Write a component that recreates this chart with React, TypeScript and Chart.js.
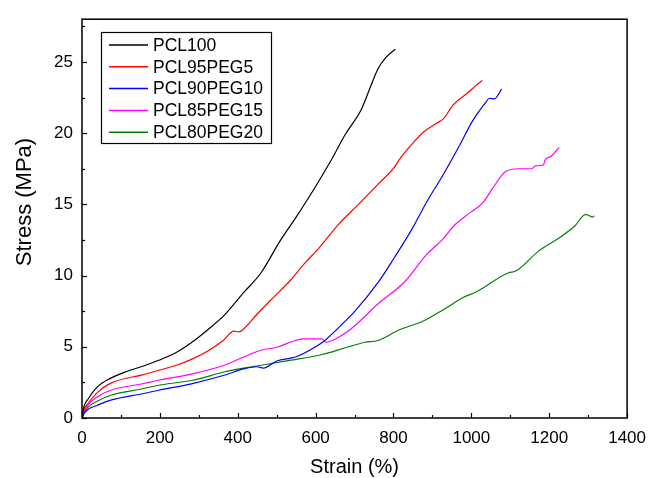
import { useEffect, useRef } from 'react';
import { Chart, registerables } from 'chart.js';

Chart.register(...registerables);

const FONT = "Arial, 'Liberation Sans', sans-serif";

const seriesNames = ['PCL100', 'PCL95PEG5', 'PCL90PEG10', 'PCL85PEG15', 'PCL80PEG20'];
const seriesColors = ['#000000', '#ff0000', '#0000ff', '#ff00ff', '#008000'];

const xTickValues = [0, 200, 400, 600, 800, 1000, 1200, 1400];
const yTickValues = [0, 5, 10, 15, 20, 25];

const pcl100Strain = [0, 5, 15, 40, 74, 113, 158, 197, 242, 284, 323, 365, 415, 460, 508, 550, 592, 642, 676, 718, 743, 760, 780, 805];
const pcl100Stress = [0, 0.8, 1.3, 2.2, 2.8, 3.25, 3.65, 4.05, 4.6, 5.35, 6.2, 7.2, 8.8, 10.2, 12.4, 14.1, 15.9, 18.2, 19.9, 21.7, 23.4, 24.5, 25.3, 25.9];

const pcl95Strain = [0, 5, 15, 40, 74, 158, 197, 242, 284, 323, 365, 390, 403, 415, 450, 491, 533, 570, 609, 659, 710, 760, 802, 819, 853, 878, 911, 928, 954, 987, 1010, 1028];
const pcl95Stress = [0, 0.6, 1.0, 1.8, 2.45, 3.05, 3.35, 3.7, 4.15, 4.7, 5.5, 6.1, 6.05, 6.25, 7.3, 8.45, 9.6, 10.8, 11.95, 13.6, 15.0, 16.4, 17.6, 18.3, 19.4, 20.1, 20.7, 21.0, 22.0, 22.75, 23.3, 23.7];

const pcl90Strain = [0, 5, 15, 40, 74, 158, 197, 281, 365, 415, 449, 466, 500, 550, 600, 626, 676, 701, 760, 802, 844, 886, 928, 970, 1004, 1038, 1046, 1059, 1078];
const pcl90Stress = [0, 0.3, 0.6, 0.9, 1.25, 1.72, 1.95, 2.4, 3.0, 3.45, 3.6, 3.5, 4.0, 4.3, 5.0, 5.5, 6.8, 7.5, 9.5, 11.25, 13.1, 15.2, 17.1, 19.15, 20.9, 22.2, 22.45, 22.4, 23.1];

const pcl85Strain = [0, 5, 15, 40, 74, 158, 197, 284, 365, 415, 457, 500, 542, 567, 617, 626, 659, 693, 760, 828, 886, 928, 954, 996, 1029, 1054, 1088, 1121, 1155, 1164, 1185, 1189, 1206, 1225];
const pcl85Stress = [0, 0.4, 0.9, 1.5, 1.95, 2.42, 2.65, 3.1, 3.7, 4.28, 4.74, 4.97, 5.39, 5.56, 5.56, 5.32, 5.67, 6.3, 8.0, 9.55, 11.5, 12.6, 13.46, 14.4, 15.1, 16.1, 17.3, 17.5, 17.5, 17.7, 17.76, 18.1, 18.4, 19.0];

const pcl80Strain = [0, 5, 15, 40, 74, 158, 197, 284, 365, 415, 449, 533, 617, 676, 727, 760, 811, 878, 928, 979, 1012, 1096, 1113, 1172, 1223, 1265, 1294, 1303, 1311, 1316];
const pcl80Stress = [0, 0.35, 0.75, 1.2, 1.6, 2.07, 2.3, 2.65, 3.23, 3.5, 3.65, 4.04, 4.46, 4.93, 5.32, 5.44, 6.14, 6.83, 7.6, 8.46, 8.85, 10.2, 10.3, 11.7, 12.6, 13.46, 14.3, 14.2, 14.1, 14.2];

const strainSets = [pcl100Strain, pcl95Strain, pcl90Strain, pcl85Strain, pcl80Strain];
const stressSets = [pcl100Stress, pcl95Stress, pcl90Stress, pcl85Stress, pcl80Stress];

const decorPlugin = {
  id: 'decor',
  afterDraw(chart: any) {
    const { ctx, chartArea: a, scales } = chart;
    ctx.save();
    ctx.strokeStyle = '#000';
    ctx.lineWidth = 1.5;
    ctx.strokeRect(a.left, a.top, a.right - a.left, a.bottom - a.top);
    ctx.lineWidth = 1.2;
    for (let v = 0; v <= 1400; v += 100) {
      const px = Math.round(scales.x.getPixelForValue(v)) + 0.5;
      const len = v % 200 === 0 ? 5 : 3;
      ctx.beginPath();
      ctx.moveTo(px, a.bottom);
      ctx.lineTo(px, a.bottom - len);
      ctx.stroke();
    }
    for (let v = 0; v <= 27.5; v += 2.5) {
      const py = Math.round(scales.y.getPixelForValue(v)) + 0.5;
      const len = v % 5 === 0 ? 5 : 3;
      ctx.beginPath();
      ctx.moveTo(a.left, py);
      ctx.lineTo(a.left + len, py);
      ctx.stroke();
    }
    ctx.save();
    ctx.translate(25, 202);
    ctx.rotate(-Math.PI / 2);
    ctx.fillStyle = '#000';
    ctx.font = `22px ${FONT}`;
    ctx.textAlign = 'center';
    ctx.textBaseline = 'middle';
    ctx.fillText('Stress (MPa)', 0, 0);
    ctx.restore();
    const bx = 101, by = 32, bw = 170, bh = 111;
    ctx.fillStyle = '#fff';
    ctx.fillRect(bx, by, bw, bh);
    ctx.strokeStyle = '#000';
    ctx.lineWidth = 1.2;
    ctx.strokeRect(bx + 0.5, by + 0.5, bw, bh);
    ctx.font = `17.5px ${FONT}`;
    ctx.textAlign = 'left';
    ctx.textBaseline = 'middle';
    chart.data.datasets.forEach((ds: any, i: number) => {
      const y = 45 + i * 21.8;
      ctx.strokeStyle = ds.borderColor;
      ctx.lineWidth = 1.5;
      ctx.beginPath();
      ctx.moveTo(109, y);
      ctx.lineTo(148, y);
      ctx.stroke();
      ctx.fillStyle = '#000';
      ctx.fillText(ds.label, 153, y + 1);
    });
    ctx.restore();
  },
};

export default function App() {
  const ref = useRef<HTMLCanvasElement | null>(null);
  useEffect(() => {
    if (!ref.current) return;
    const datasets = seriesNames.map((name, i) => ({
      label: name,
      data: strainSets[i].map((x, j) => ({ x, y: stressSets[i][j] })),
      borderColor: seriesColors[i],
      backgroundColor: seriesColors[i],
      borderWidth: 1.2,
      pointRadius: 0,
      cubicInterpolationMode: 'monotone' as const,
      fill: false,
    }));
    const chart = new Chart(ref.current, {
      type: 'line',
      data: { datasets },
      options: {
        responsive: false,
        animation: false,
        layout: { padding: { left: 0, top: 15, right: 19, bottom: 0 } },
        plugins: { legend: { display: false }, tooltip: { enabled: false } },
        scales: {
          x: {
            type: 'linear',
            min: 0,
            max: 1400,
            afterFit: (s: any) => { s.height = 60; },
            afterBuildTicks: (s: any) => { s.ticks = xTickValues.map((v) => ({ value: v })); },
            grid: { display: false, drawTicks: false },
            border: { display: false },
            ticks: {
              color: '#000',
              font: { family: FONT, size: 17 },
              padding: 10,
              maxRotation: 0,
              autoSkip: false,
              callback: (v: any) => String(v),
            },
            title: { display: true, text: 'Strain (%)', color: '#000', font: { family: FONT, size: 20, lineHeight: 1.0 }, padding: { top: 0, bottom: 1 } },
          },
          y: {
            type: 'linear',
            min: 0,
            max: 28,
            afterFit: (s: any) => { s.width = 82; },
            afterBuildTicks: (s: any) => { s.ticks = yTickValues.map((v) => ({ value: v })); },
            grid: { display: false, drawTicks: false },
            border: { display: false },
            ticks: { color: '#000', font: { family: FONT, size: 17 }, padding: 9, autoSkip: false, callback: (v: any) => String(v) },
          },
        },
      },
      plugins: [decorPlugin],
    });
    return () => chart.destroy();
  }, []);
  return (
    <div style={{ position: 'absolute', left: 0, top: 0, width: 656, height: 478, background: '#fff' }}>
      <canvas ref={ref} width={656} height={478} />
    </div>
  );
}
